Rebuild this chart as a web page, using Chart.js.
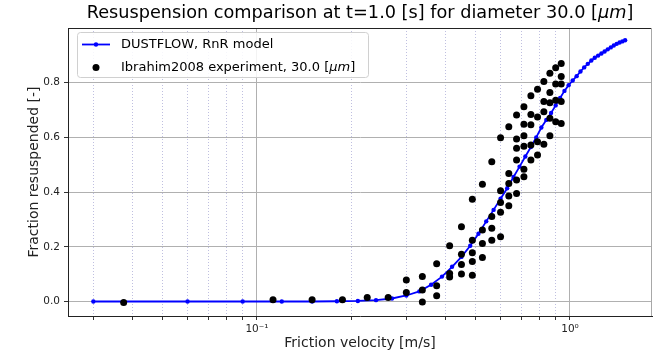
<!DOCTYPE html>
<html>
<head>
<meta charset="utf-8">
<script src="https://cdn.jsdelivr.net/npm/chart.js@4.4.1/dist/chart.umd.min.js"></script>
<style>
  html, body { margin: 0; padding: 0; background: #fff; }
</style>
</head>
<body>
<canvas id="resusp" width="672" height="353"></canvas>
<script>
// DUSTFLOW Rock'n'Roll model output
const modelVelocity = [
  0.03, 0.06, 0.09, 0.12, 0.15, 0.18, 0.21, 0.24, 0.27, 0.30,
  0.33, 0.36, 0.39, 0.42, 0.45, 0.48, 0.51, 0.54, 0.57, 0.60,
  0.63, 0.66, 0.69, 0.72, 0.75, 0.78, 0.81, 0.84, 0.87, 0.90,
  0.93, 0.96, 0.99, 1.02, 1.05, 1.08, 1.11, 1.14, 1.17, 1.20,
  1.23, 1.26, 1.29, 1.32, 1.35, 1.38, 1.41, 1.44, 1.47, 1.50,
];
const modelFraction = [
  0.000, 0.000, 0.000, 0.000, 0.000, 0.001, 0.002, 0.005, 0.011, 0.022,
  0.037, 0.061, 0.091, 0.127, 0.163, 0.204, 0.248, 0.293, 0.335, 0.376,
  0.414, 0.455, 0.493, 0.530, 0.565, 0.600, 0.636, 0.664, 0.689, 0.717,
  0.744, 0.770, 0.791, 0.808, 0.824, 0.841, 0.856, 0.869, 0.881, 0.891,
  0.899, 0.907, 0.914, 0.922, 0.929, 0.936, 0.942, 0.947, 0.951, 0.955,
];

// Ibrahim et al. (2008) measurements, 30 um particles
const expVelocity = [
  0.0375, 0.1125, 0.15, 0.1875, 0.225, 0.2625,
  0.3, 0.3,
  0.3375, 0.3375, 0.3375,
  0.375, 0.375, 0.375,
  0.4125, 0.4125, 0.4125,
  0.45, 0.45, 0.45, 0.45,
  0.4875, 0.4875, 0.4875, 0.4875, 0.4875,
  0.525, 0.525, 0.525, 0.525,
  0.5625, 0.5625, 0.5625, 0.5625,
  0.6, 0.6, 0.6, 0.6, 0.6,
  0.6375, 0.6375, 0.6375, 0.6375, 0.6375,
  0.675, 0.675, 0.675, 0.675, 0.675, 0.675,
  0.7125, 0.7125, 0.7125, 0.7125, 0.7125, 0.7125,
  0.75, 0.75, 0.75, 0.75, 0.75,
  0.7875, 0.7875, 0.7875, 0.7875,
  0.825, 0.825, 0.825, 0.825,
  0.8625, 0.8625, 0.8625, 0.8625, 0.8625,
  0.9, 0.9, 0.9, 0.9,
  0.9375, 0.9375, 0.9375, 0.9375, 0.9375,
];
const expFraction = [
  -0.004, 0.006, 0.006, 0.006, 0.015, 0.015,
  0.079, 0.033,
  0.091, 0.042, -0.002,
  0.138, 0.058, 0.021,
  0.204, 0.102, 0.090,
  0.273, 0.173, 0.135, 0.101,
  0.374, 0.224, 0.178, 0.146, 0.096,
  0.429, 0.261, 0.212, 0.161,
  0.511, 0.311, 0.268, 0.224,
  0.599, 0.405, 0.362, 0.326, 0.237,
  0.639, 0.468, 0.431, 0.386, 0.350,
  0.682, 0.594, 0.560, 0.517, 0.444, 0.395,
  0.712, 0.648, 0.606, 0.568, 0.484, 0.456,
  0.752, 0.684, 0.646, 0.572, 0.517,
  0.776, 0.675, 0.584, 0.536,
  0.804, 0.731, 0.694, 0.575,
  0.835, 0.764, 0.727, 0.670, 0.606,
  0.855, 0.795, 0.736, 0.657,
  0.870, 0.823, 0.795, 0.731, 0.651,
];

const yTicks = [0, 0.2, 0.4, 0.6, 0.8];
const xTicks = [
  0.03, 0.04, 0.05, 0.06, 0.07, 0.08, 0.09,
  0.1, 0.2, 0.3, 0.4, 0.5, 0.6, 0.7, 0.8, 0.9,
  1,
];
const xTickLabels = { 0.1: "10\u207B\u00B9", 1: "10\u2070" };

const FONT = "'DejaVu Sans', sans-serif";
const isMajor = (v) => Math.abs(Math.log10(v) - Math.round(Math.log10(v))) < 1e-9;

// writes a list of [text, italic] pieces one after another
function richText(ctx, parts, x, y, size, align) {
  ctx.save();
  ctx.textBaseline = "middle";
  ctx.textAlign = "left";
  ctx.fillStyle = "#000";
  let total = 0;
  const widths = parts.map(([t, it]) => {
    ctx.font = (it ? "italic " : "") + size + "px " + FONT;
    const w = ctx.measureText(t).width;
    total += w;
    return w;
  });
  let cx = align === "center" ? x - total / 2 : x;
  parts.forEach(([t, it], i) => {
    ctx.font = (it ? "italic " : "") + size + "px " + FONT;
    ctx.fillText(t, cx, y);
    cx += widths[i];
  });
  ctx.restore();
}

const decorations = {
  id: "decorations",
  afterDraw(chart) {
    const { ctx, chartArea: a } = chart;

    // top / right frame
    ctx.save();
    ctx.lineWidth = 1;
    ctx.strokeStyle = "#222";
    ctx.beginPath();
    ctx.moveTo(a.left, a.top + 0.5);
    ctx.lineTo(a.right, a.top + 0.5);
    ctx.stroke();
    ctx.strokeStyle = "#a8a8a8";
    ctx.beginPath();
    ctx.moveTo(a.right - 0.5, a.top);
    ctx.lineTo(a.right - 0.5, a.bottom);
    ctx.stroke();
    ctx.restore();

    // title
    richText(ctx, [
      ["Resuspension comparison at t=1.0 [s] for diameter 30.0 [", false],
      ["\u03BCm", true],
      ["]", false],
    ], (a.left + a.right) / 2, 13, 17.7, "center");

    // legend
    const lx = 77, ly = 32, lw = 291, lh = 45;
    ctx.save();
    ctx.beginPath();
    ctx.roundRect(lx + 0.5, ly + 0.5, lw, lh, 3);
    ctx.fillStyle = "rgba(255,255,255,0.85)";
    ctx.fill();
    ctx.strokeStyle = "#d0d0d0";
    ctx.lineWidth = 1;
    ctx.stroke();

    const r1 = ly + 12.5, r2 = ly + 35.5;
    ctx.strokeStyle = "#0000ff";
    ctx.lineWidth = 1.8;
    ctx.beginPath();
    ctx.moveTo(lx + 5, r1);
    ctx.lineTo(lx + 33, r1);
    ctx.stroke();
    ctx.fillStyle = "#0000ff";
    ctx.beginPath();
    ctx.arc(lx + 19, r1, 2.2, 0, Math.PI * 2);
    ctx.fill();
    ctx.fillStyle = "#000";
    ctx.beginPath();
    ctx.arc(lx + 19, r2, 3.5, 0, Math.PI * 2);
    ctx.fill();
    ctx.restore();

    richText(ctx, [["DUSTFLOW, RnR model", false]], lx + 44, r1, 13, "left");
    richText(ctx, [
      ["Ibrahim2008 experiment, 30.0 [", false],
      ["\u03BCm", true],
      ["]", false],
    ], lx + 44, r2, 13, "left");
  },
};

const modelPoints = modelVelocity.map((v, i) => ({ x: v, y: modelFraction[i] }));
const expPoints = expVelocity.map((v, i) => ({ x: v, y: expFraction[i] }));

new Chart(document.getElementById("resusp"), {
  type: "scatter",
  data: {
    datasets: [
      {
        label: "Ibrahim2008 experiment, 30.0 [\u03BCm]",
        data: expPoints,
        backgroundColor: "#000",
        borderColor: "#000",
        pointRadius: 3.5,
        pointBorderWidth: 0,
        order: 1,
      },
      {
        label: "DUSTFLOW, RnR model",
        data: modelPoints,
        showLine: true,
        borderColor: "#0000ff",
        backgroundColor: "#0000ff",
        borderWidth: 1.8,
        pointRadius: 2.2,
        pointBorderWidth: 0,
        order: 2,
      },
    ],
  },
  options: {
    responsive: false,
    animation: false,
    layout: { padding: { top: 28, right: 20, left: 0, bottom: 0 } },
    plugins: {
      legend: { display: false },
      tooltip: { enabled: false },
      title: { display: false },
    },
    scales: {
      x: {
        type: "logarithmic",
        min: 0.0249,
        max: 1.828,
        afterBuildTicks: (s) => { s.ticks = xTicks.map((v) => ({ value: v })); },
        afterFit: (s) => { s.height = 37; },
        ticks: {
          autoSkip: false,
          maxRotation: 0,
          padding: 3,
          color: "#222",
          font: { family: FONT, size: 10.5 },
          callback: (v) => xTickLabels[v] || "",
        },
        grid: {
          color: (c) => (c.tick && isMajor(c.tick.value) ? "#b0b0b0" : "rgba(60,60,160,0.33)"),
          lineWidth: 1,
          tickLength: 4,
          tickColor: "#333",
        },
        border: {
          color: "#222",
          width: 1,
          dash: (c) => (c.tick && !isMajor(c.tick.value) ? [1, 2] : []),
        },
        title: {
          display: true,
          text: "Friction velocity [m/s]",
          color: "#222",
          font: { family: FONT, size: 14 },
          padding: { top: 0, bottom: 1 },
        },
      },
      y: {
        type: "linear",
        min: -0.053,
        max: 1.0,
        afterBuildTicks: (s) => { s.ticks = yTicks.map((v) => ({ value: v })); },
        afterFit: (s) => { s.width = 68; },
        ticks: {
          padding: 4,
          color: "#222",
          font: { family: FONT, size: 10.5 },
          callback: (v) => v.toFixed(1),
        },
        grid: {
          color: "#b0b0b0",
          lineWidth: 1,
          tickLength: 4,
          tickColor: "#333",
        },
        border: { color: "#222", width: 1 },
        title: {
          display: true,
          text: "Fraction resuspended [-]",
          color: "#222",
          font: { family: FONT, size: 14 },
          padding: { top: 26, bottom: 0 },
        },
      },
    },
  },
  plugins: [decorations],
});
</script>
</body>
</html>
